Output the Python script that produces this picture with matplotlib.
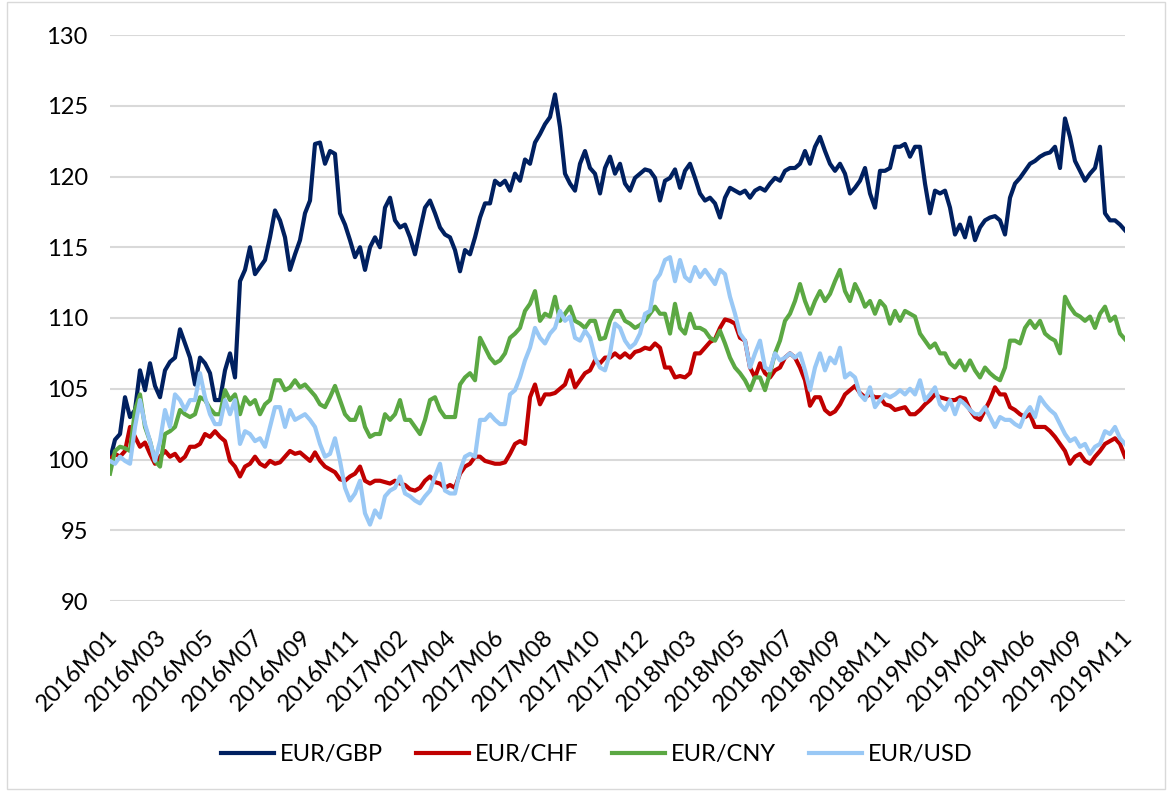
import numpy as np
import matplotlib

matplotlib.use("Agg")
import matplotlib.pyplot as plt
import matplotlib.transforms as mtransforms
from matplotlib.patches import Rectangle

plt.rcParams["font.family"] = ["Lato", "DejaVu Sans"]

# Index values (2016M01 = 100) at regular intervals
eur_gbp = [
    100.0, 101.4, 101.8, 104.4, 103.0, 103.5, 106.3, 104.9, 106.8, 105.2, 104.4, 106.3, 106.9, 107.2, 109.2, 108.2, 107.2,
    105.3, 107.2, 106.8, 106.1, 104.2, 104.2, 106.3, 107.5, 105.8, 112.6, 113.4, 115.0, 113.1, 113.6, 114.1, 115.7, 117.6,
    116.9, 115.7, 113.4, 114.5, 115.5, 117.4, 118.3, 122.3, 122.4, 120.9, 121.8, 121.6, 117.4, 116.6, 115.5, 114.3, 115.0,
    113.4, 115.0, 115.7, 115.0, 117.8, 118.5, 116.9, 116.4, 116.6, 115.7, 114.5, 116.2, 117.8, 118.3, 117.4, 116.4, 115.9,
    115.7, 114.8, 113.3, 114.8, 114.5, 115.7, 117.1, 118.1, 118.1, 119.7, 119.4, 119.7, 119.0, 120.2, 119.7, 121.2, 120.9,
    122.4, 123.0, 123.7, 124.2, 125.8, 123.5, 120.2, 119.5, 119.0, 120.9, 121.8, 120.6, 120.2, 118.8, 120.6, 121.4, 120.2,
    120.9, 119.5, 119.0, 119.9, 120.2, 120.5, 120.4, 119.9, 118.3, 119.7, 119.9, 120.5, 119.2, 120.4, 120.9, 119.9, 118.8,
    118.3, 118.5, 118.1, 117.1, 118.5, 119.2, 119.0, 118.8, 119.0, 118.5, 119.0, 119.2, 119.0, 119.5, 119.9, 119.7, 120.4,
    120.6, 120.6, 120.9, 121.8, 120.9, 122.1, 122.8, 121.8, 120.9, 120.4, 120.9, 120.2, 118.8, 119.2, 119.7, 120.6, 118.8,
    117.8, 120.4, 120.4, 120.6, 122.1, 122.1, 122.3, 121.4, 122.1, 122.1, 119.5, 117.4, 119.0, 118.8, 119.0, 117.8, 115.9,
    116.6, 115.7, 117.1, 115.5, 116.4, 116.9, 117.1, 117.2, 116.9, 115.9, 118.5, 119.5, 119.9, 120.4, 120.9, 121.1, 121.4,
    121.6, 121.7, 122.1, 120.6, 124.1, 122.8, 121.1, 120.4, 119.7, 120.2, 120.6, 122.1, 117.4, 116.9, 116.9, 116.6, 116.2,
]
eur_chf = [
    100.0, 100.4, 100.2, 100.6, 102.3, 101.6, 100.9, 101.2, 100.4, 99.7, 100.2, 100.6, 100.2, 100.4, 99.9, 100.2, 100.9,
    100.9, 101.1, 101.8, 101.6, 102.0, 101.6, 101.3, 99.9, 99.5, 98.8, 99.5, 99.7, 100.2, 99.7, 99.5, 99.9, 99.7,
    99.8, 100.2, 100.6, 100.4, 100.5, 100.2, 99.9, 100.5, 99.9, 99.5, 99.3, 99.1, 98.6, 98.5, 98.8, 99.0, 99.5,
    98.5, 98.3, 98.5, 98.5, 98.4, 98.3, 98.5, 98.3, 98.2, 97.9, 97.8, 98.0, 98.5, 98.8, 98.4, 98.3, 98.0,
    98.2, 98.0, 99.0, 99.5, 99.7, 100.2, 100.2, 99.9, 99.8, 99.7, 99.7, 99.8, 100.4, 101.1, 101.3, 101.1, 104.4,
    105.3, 103.9, 104.6, 104.6, 104.7, 105.0, 105.3, 106.3, 105.1, 105.6, 106.1, 106.3, 107.0, 106.8, 107.2, 107.2, 107.5,
    107.2, 107.5, 107.2, 107.6, 107.7, 107.9, 107.8, 108.2, 107.9, 106.5, 106.5, 105.8, 105.9, 105.8, 106.1, 107.5, 107.5,
    107.9, 108.3, 108.5, 109.3, 109.9, 109.8, 109.6, 108.6, 108.4, 106.5, 105.8, 106.8, 106.1, 105.8, 106.3, 106.5, 107.2,
    107.5, 107.2, 106.5, 105.6, 103.8, 104.4, 104.4, 103.5, 103.2, 103.4, 103.9, 104.6, 104.9, 105.2, 104.7, 104.4, 104.6,
    104.4, 104.4, 103.9, 103.8, 103.5, 103.6, 103.7, 103.2, 103.2, 103.5, 103.9, 104.2, 104.6, 104.4, 104.3, 104.2, 104.2,
    104.4, 104.3, 103.5, 103.0, 102.8, 103.5, 104.2, 105.1, 104.6, 104.6, 103.7, 103.5, 103.2, 103.0, 103.2, 102.3, 102.3,
    102.3, 102.0, 101.6, 101.1, 100.6, 99.7, 100.2, 100.4, 99.9, 99.7, 100.2, 100.6, 101.1, 101.3, 101.5, 101.1, 100.2,
]
eur_cny = [
    99.0, 100.6, 100.9, 100.8, 100.6, 103.5, 104.6, 102.3, 101.3, 99.9, 99.5, 101.8, 102.0, 102.3, 103.5, 103.2, 103.0,
    103.2, 104.4, 104.2, 103.6, 103.2, 103.2, 104.9, 104.2, 104.6, 103.2, 104.4, 103.9, 104.2, 103.2, 103.9, 104.2, 105.6,
    105.6, 104.9, 105.1, 105.6, 105.1, 105.3, 104.9, 104.5, 103.9, 103.7, 104.4, 105.2, 104.2, 103.2, 102.8, 102.8, 103.7,
    102.3, 101.6, 101.8, 101.8, 103.2, 102.8, 103.2, 104.2, 102.8, 102.8, 102.3, 101.8, 102.8, 104.2, 104.4, 103.5, 103.0,
    103.0, 103.0, 105.3, 105.8, 106.1, 105.6, 108.6, 107.9, 107.2, 106.8, 107.0, 107.5, 108.6, 108.9, 109.3, 110.5, 111.0,
    111.9, 109.8, 110.3, 110.1, 111.5, 109.8, 110.3, 110.8, 109.8, 109.6, 109.3, 109.8, 109.8, 108.5, 108.6, 109.8, 110.5,
    110.5, 109.8, 109.6, 109.3, 109.5, 109.8, 110.3, 110.8, 110.3, 110.3, 108.9, 111.0, 109.3, 108.9, 110.3, 109.3, 109.3,
    109.1, 108.6, 108.4, 109.1, 108.2, 107.2, 106.5, 106.1, 105.6, 104.9, 105.8, 105.8, 104.9, 106.1, 107.5, 108.4, 109.8,
    110.3, 111.2, 112.4, 111.2, 110.3, 111.2, 111.9, 111.2, 111.7, 112.6, 113.4, 111.9, 111.2, 112.4, 111.7, 110.8, 111.2,
    110.3, 111.2, 110.8, 109.6, 110.5, 109.8, 110.5, 110.3, 110.1, 108.9, 108.4, 107.9, 108.2, 107.5, 107.5, 106.8, 106.5,
    107.0, 106.3, 107.0, 106.3, 105.8, 106.5, 106.1, 105.8, 105.6, 106.5, 108.4, 108.4, 108.2, 109.3, 109.8, 109.3, 109.8,
    108.9, 108.6, 108.4, 107.5, 111.5, 110.8, 110.3, 110.1, 109.8, 110.1, 109.3, 110.3, 110.8, 109.8, 110.1, 108.9, 108.5,
]
eur_usd = [
    99.9, 99.7, 100.2, 99.9, 99.7, 102.3, 104.2, 102.5, 101.3, 99.9, 101.3, 103.5, 102.3, 104.6, 104.2, 103.5, 104.2,
    104.2, 106.1, 104.4, 103.2, 102.5, 102.5, 104.2, 103.2, 104.2, 101.1, 102.0, 101.8, 101.3, 101.5, 100.9, 102.3, 103.7,
    103.7, 102.3, 103.5, 102.8, 103.0, 103.2, 102.8, 102.3, 101.1, 100.2, 100.4, 101.5, 99.9, 98.0, 97.1, 97.6, 98.5,
    96.2, 95.4, 96.4, 95.9, 97.4, 97.8, 98.0, 98.8, 97.6, 97.4, 97.1, 96.9, 97.4, 97.8, 98.8, 99.7, 97.8,
    97.6, 97.6, 99.2, 100.2, 100.4, 100.2, 102.8, 102.8, 103.2, 102.8, 102.5, 102.5, 104.6, 104.9, 105.8, 107.0, 107.9,
    109.3, 108.6, 108.2, 108.9, 109.3, 110.5, 109.8, 110.1, 108.6, 108.4, 109.1, 108.6, 107.2, 106.5, 106.3, 107.5, 109.6,
    109.3, 108.4, 107.9, 108.2, 108.9, 110.3, 110.5, 112.6, 113.1, 114.1, 114.3, 112.6, 114.1, 112.9, 112.6, 113.6, 112.9,
    113.4, 112.9, 112.4, 113.4, 113.1, 111.5, 110.3, 108.9, 108.4, 106.5, 107.5, 108.4, 106.5, 106.3, 107.5, 107.0, 107.2,
    107.5, 107.2, 107.5, 106.3, 104.9, 106.5, 107.5, 106.3, 107.2, 106.8, 107.9, 105.8, 106.1, 105.8, 104.6, 104.2, 105.1,
    103.7, 104.2, 104.6, 104.4, 104.6, 104.9, 104.6, 105.0, 104.6, 105.6, 104.2, 104.6, 105.1, 103.9, 103.5, 104.2, 103.2,
    104.2, 103.9, 103.5, 103.2, 103.2, 103.7, 103.0, 102.3, 103.0, 102.8, 102.8, 102.5, 102.3, 103.2, 103.7, 103.0, 104.4,
    103.9, 103.5, 103.2, 102.5, 101.8, 101.3, 101.5, 100.9, 101.1, 100.4, 100.9, 101.1, 102.0, 101.8, 102.3, 101.5, 101.1,
]

tick_labels = [
    "2016M01", "2016M03", "2016M05", "2016M07", "2016M09", "2016M11",
    "2017M02", "2017M04", "2017M06", "2017M08", "2017M10", "2017M12",
    "2018M03", "2018M05", "2018M07", "2018M09", "2018M11",
    "2019M01", "2019M04", "2019M06", "2019M09", "2019M11",
]

series = [
    ("EUR/GBP", eur_gbp, "#002060"),
    ("EUR/CHF", eur_chf, "#C00000"),
    ("EUR/CNY", eur_cny, "#5BA843"),
    ("EUR/USD", eur_usd, "#99C8F5"),
]

fig = plt.figure(figsize=(11.7, 7.91), dpi=100)
ax = fig.add_axes([110 / 1170, 1 - 601 / 791, 1015 / 1170, 566 / 791])

n = len(eur_gbp)
x = np.arange(n)
for name, vals, color in series:
    ax.plot(x, vals, color=color, lw=3.0, label=name, solid_joinstyle="round")

ax.set_xlim(0, n - 1)
ax.set_ylim(90, 130)
ax.set_yticks(np.arange(90, 131, 5))
ax.grid(axis="y", color="#d9d9d9", lw=1.5)
ax.set_axisbelow(True)
for s in ax.spines.values():
    s.set_visible(False)

ax.set_xticks(np.linspace(0, n - 1, len(tick_labels)))
ax.set_xticklabels(tick_labels, rotation=45, ha="right", rotation_mode="anchor")
ax.tick_params(axis="both", length=0, labelsize=17, colors="#000000")
ax.tick_params(axis="y", pad=16)
ax.tick_params(axis="x", pad=18)

# nudge the rotated date labels a little to the left
shift = mtransforms.ScaledTranslation(-0.03, 0, fig.dpi_scale_trans)
for lab in ax.get_xticklabels():
    lab.set_transform(lab.get_transform() + shift)

fig.legend(
    loc="center",
    bbox_to_anchor=(0.51, 0.046),
    ncol=4,
    frameon=False,
    fontsize=17,
    handlelength=2.25,
    handletextpad=0.25,
    columnspacing=1.4,
)

fig.patches.append(
    Rectangle((0.006, 0.002), 0.99, 0.996, transform=fig.transFigure,
              fill=False, edgecolor="#d9d9d9", lw=1)
)

fig.savefig("out.png", dpi=100)
